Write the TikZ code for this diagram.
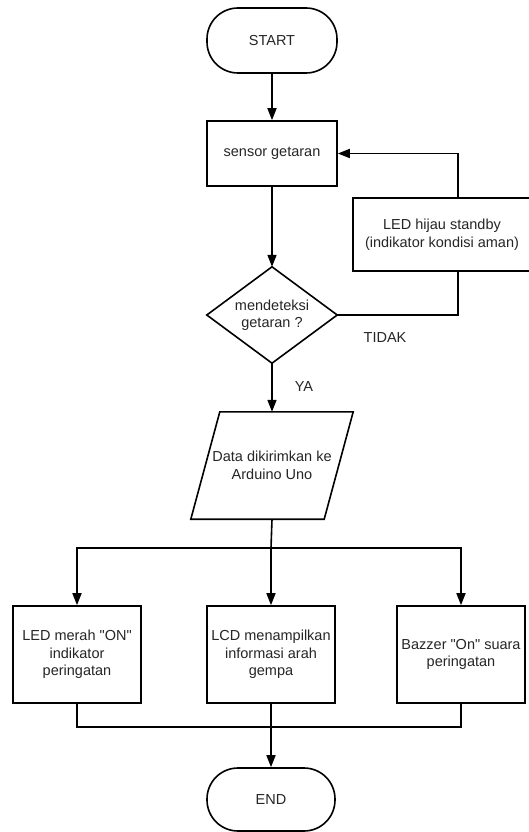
\documentclass[tikz,border=0pt]{standalone}
\usepackage{fontspec}
\setmainfont{Liberation Sans}[Ligatures=TeXOff]
\usetikzlibrary{arrows.meta}
\begin{document}
\begin{tikzpicture}[x=1pt,y=-1pt,
  every node/.style={font=\fontsize{14.5}{17.5}\selectfont, text=black!85, align=center, inner sep=0pt},
  boxnode/.style={draw, line width=1.6pt, minimum width=130pt, minimum height=65pt},
  termnode/.style={draw, line width=1.6pt, rounded corners=31pt, minimum width=130pt, minimum height=65pt},
  outnode/.style={draw, line width=1.6pt, minimum width=128pt, minimum height=97pt},
  conn/.style={line width=1.6pt, draw=black},
  arr/.style={conn, -{Triangle[length=12pt,width=9pt]}},
  lbl/.style={font=\fontsize{14.5}{17.5}\selectfont}
]
\useasboundingbox[fill=white] (0,0) rectangle (529,832);

\node[termnode] (start) at (272,40.5) {START};
\node[boxnode] (sensor) at (272,153.5) {sensor getaran};
\node[draw, line width=1.6pt, minimum width=178pt, minimum height=73pt] (led) at (442,234.5) {LED hijau standby\\(indikator kondisi aman)};
\node[minimum width=130pt, minimum height=96pt] (dec) at (272,315) {mendeteksi\\getaran ?};
\draw[conn, line join=miter] (dec.north) -- (dec.east) -- (dec.south) -- (dec.west) -- cycle;
\node[lbl] (tidak) at (385,338) {TIDAK};
\node[lbl] (ya) at (304,387) {YA};
\node[minimum width=162pt, minimum height=107pt] (data) at (272,465.5) {Data dikirimkan ke\\Arduino Uno};
\draw[conn, line join=miter] ([xshift=29pt]data.north west) -- (data.north east) -- ([xshift=-29pt]data.south east) -- (data.south west) -- cycle;

\coordinate (sp) at (271,548);
\node[outnode] (b1) at (77,654.5) {LED merah "ON"\\indikator\\peringatan};
\node[outnode] (b2) at (271,654.5) {LCD menampilkan\\informasi arah\\gempa};
\node[outnode] (b3) at (461,654.5) {Bazzer "On" suara\\peringatan};
\coordinate (mg) at (271,727);
\node[termnode, minimum width=128pt, minimum height=63pt] (end) at (271,799.5) {END};

\draw[arr] (start) -- (sensor);
\draw[arr] (sensor) -- (dec.north);
\draw[arr] (dec.south) -- (data.north);
\draw[conn] (dec.east) -| ([xshift=16pt]led.south);
\draw[arr] ([xshift=16pt]led.north) |- (sensor.east);
\draw[conn] (data.south) -- (sp);
\draw[arr] (sp) -| (b1.north);
\draw[arr] (sp) -| (b3.north);
\draw[arr] (sp) -- (b2.north);
\draw[conn] (b1.south) |- (mg);
\draw[conn] (b3.south) |- (mg);
\draw[arr] (b2.south) -- (end.north);
\end{tikzpicture}
\end{document}
